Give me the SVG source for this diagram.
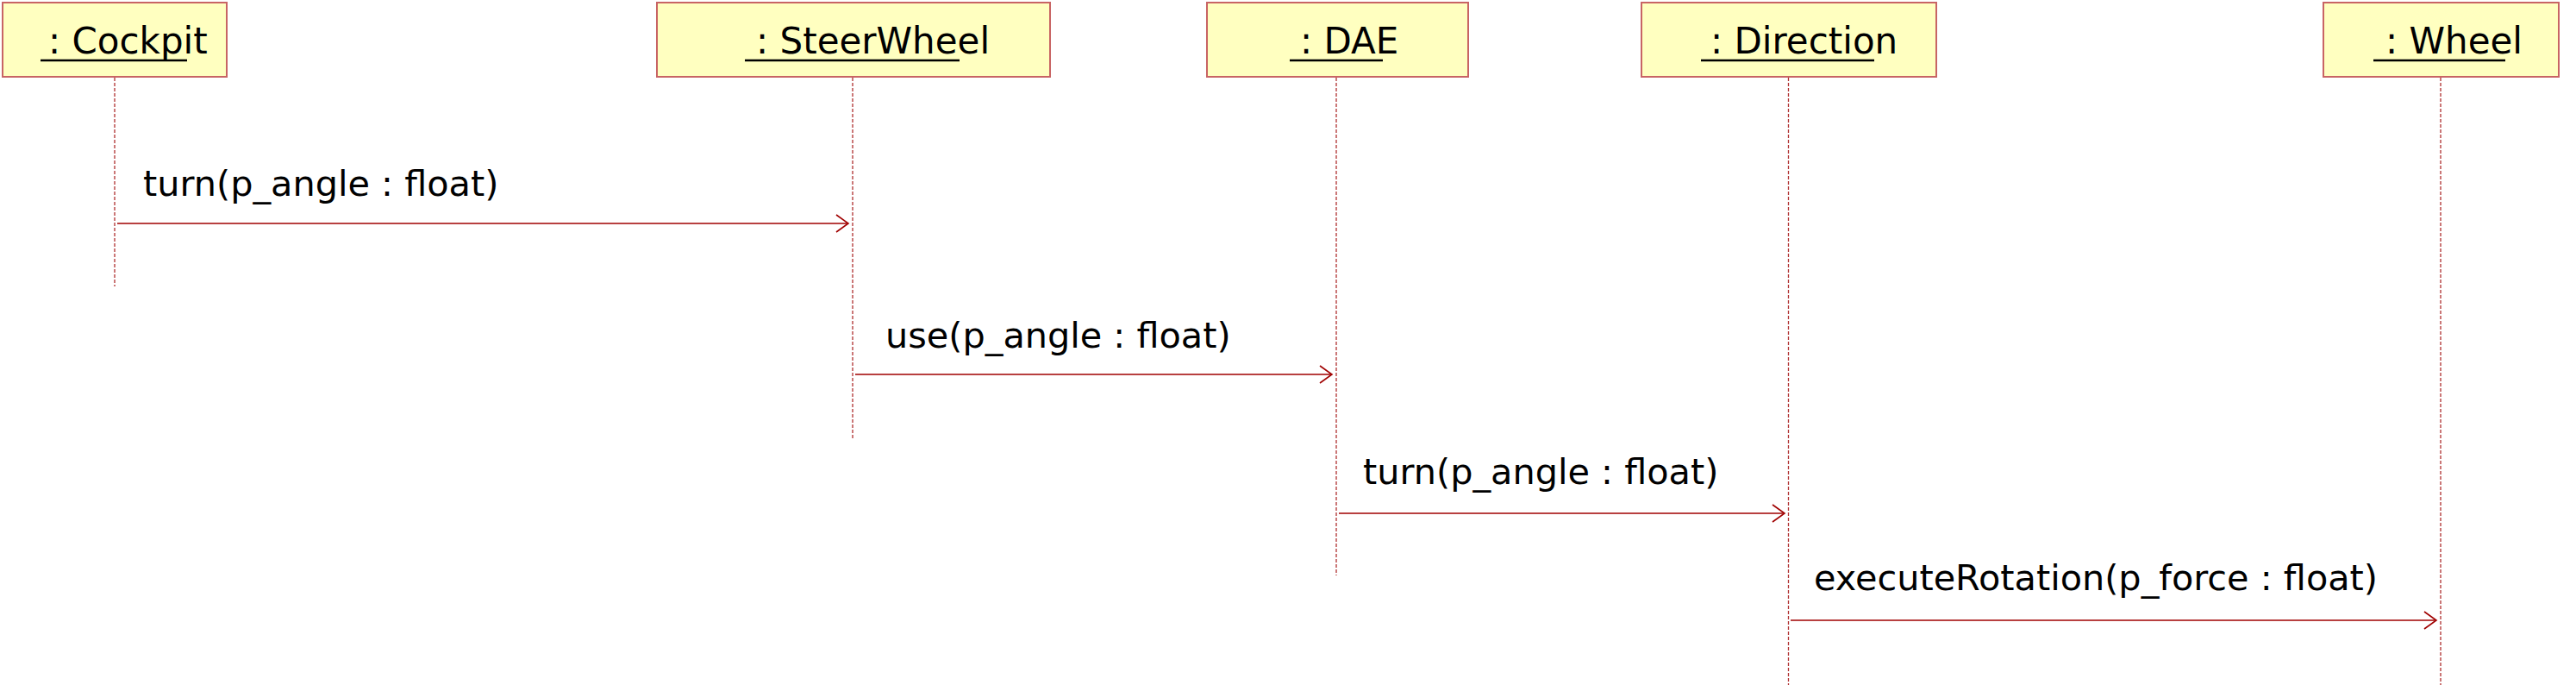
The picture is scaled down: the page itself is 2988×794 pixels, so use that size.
<svg xmlns="http://www.w3.org/2000/svg" width="2988" height="794" viewBox="0 0 2988 794">
<defs>
<style>
.box{fill:#ffffc0;stroke:#c86464;stroke-width:2}
.lbl{font-family:"DejaVu Sans",sans-serif;font-size:42px;fill:#000}
.mlbl{font-family:"DejaVu Sans",sans-serif;font-size:41.4px;fill:#000}
.ul{stroke:#000;stroke-width:2.5}
.life{stroke:#b03030;stroke-width:1.3;stroke-dasharray:4 2;fill:none}
.msg{stroke:#a00000;stroke-width:1.6;fill:none}
</style>
<marker id="open" markerUnits="userSpaceOnUse" markerWidth="20" markerHeight="24" refX="15" refY="11" orient="auto">
<path d="M1,1 L15,11 L1,21" fill="none" stroke="#a00000" stroke-width="1.6"/>
</marker>
</defs>
<rect width="2988" height="794" fill="#fff"/>
<g id="cockpit">
<rect class="box" x="3" y="3" width="260" height="86"/>
<text class="lbl" x="56" y="62">: Cockpit</text>
<line class="ul" x1="47" y1="70" x2="217" y2="70"/>
<line class="life" x1="133" y1="90" x2="133" y2="332"/>
</g>
<g id="steerwheel">
<rect class="box" x="762" y="3" width="456" height="86"/>
<text class="lbl" x="877" y="62">: SteerWheel</text>
<line class="ul" x1="864" y1="70" x2="1113" y2="70"/>
<line class="life" x1="989" y1="90" x2="989" y2="508"/>
</g>
<g id="dae">
<rect class="box" x="1400" y="3" width="303" height="86"/>
<text class="lbl" x="1508" y="62">: DAE</text>
<line class="ul" x1="1496" y1="70" x2="1604" y2="70"/>
<line class="life" x1="1550" y1="90" x2="1550" y2="667"/>
</g>
<g id="direction">
<rect class="box" x="1904" y="3" width="342" height="86"/>
<text class="lbl" x="1984" y="62">: Direction</text>
<line class="ul" x1="1973" y1="70" x2="2174" y2="70"/>
<line class="life" x1="2074.5" y1="90" x2="2074.5" y2="794"/>
</g>
<g id="wheel">
<rect class="box" x="2695" y="3" width="273" height="86"/>
<text class="lbl" x="2767" y="62">: Wheel</text>
<line class="ul" x1="2753" y1="70" x2="2906" y2="70"/>
<line class="life" x1="2831" y1="90" x2="2831" y2="794"/>
</g>
<g id="connectors">
<line class="msg" x1="136" y1="259" x2="984" y2="259" marker-end="url(#open)"/>
<text class="mlbl" x="166" y="227">turn(p_angle : float)</text>
<line class="msg" x1="992" y1="434" x2="1545" y2="434" marker-end="url(#open)"/>
<text class="mlbl" x="1027" y="403">use(p_angle : float)</text>
<line class="msg" x1="1553" y1="595" x2="2070" y2="595" marker-end="url(#open)"/>
<text class="mlbl" x="1581" y="561">turn(p_angle : float)</text>
<line class="msg" x1="2077" y1="719" x2="2826" y2="719" marker-end="url(#open)"/>
<text class="mlbl" x="2104" y="684">executeRotation(p_force : float)</text>
</g>
</svg>
